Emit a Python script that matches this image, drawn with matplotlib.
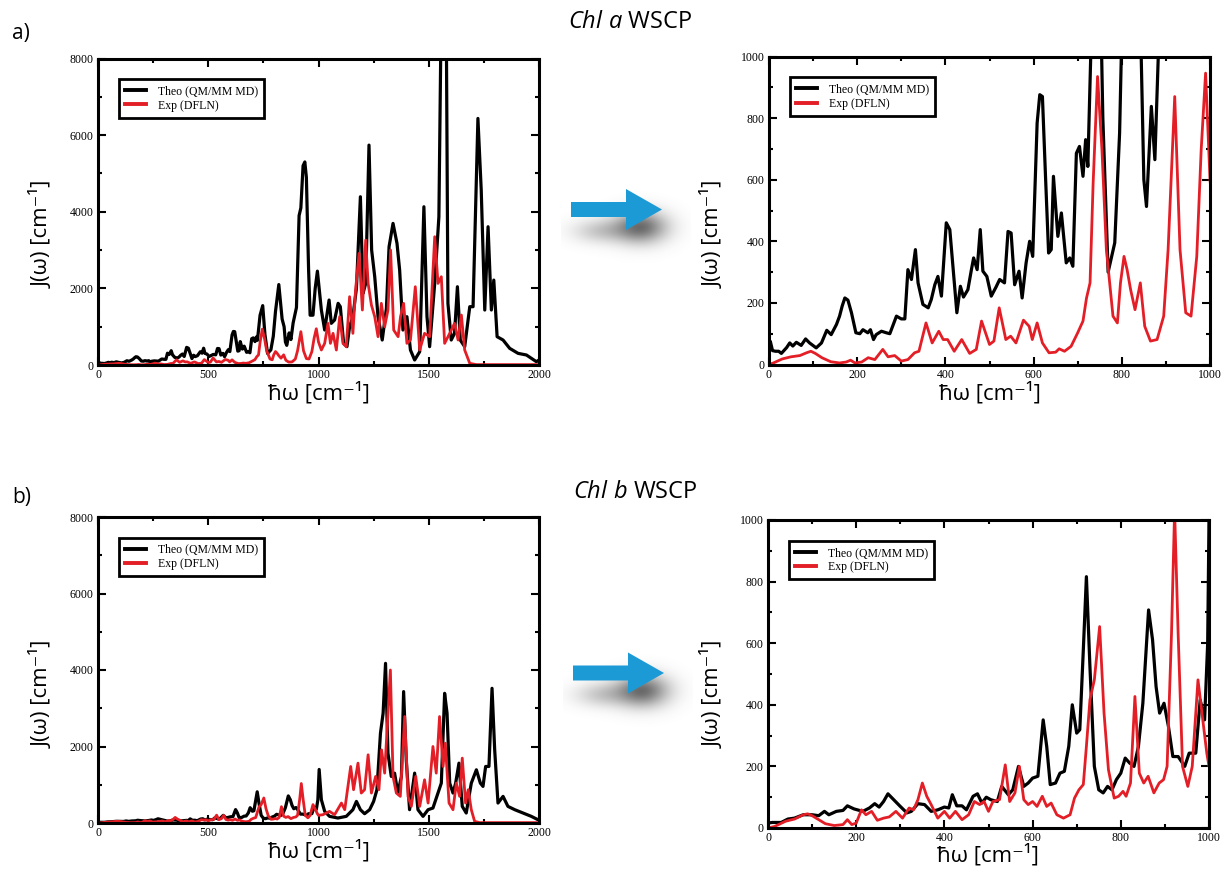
import numpy as np
import matplotlib
matplotlib.use("Agg")
import matplotlib.pyplot as plt
from matplotlib.patches import Polygon
from matplotlib.ticker import MultipleLocator

W, H = 1223, 884

# Chl a WSCP, theory (QM/MM MD)
a_theo_x = [0, 3, 8, 15, 22, 28, 40, 47, 54, 62, 73, 83, 92, 107, 119, 131, 141, 153, 160, 166,
            172, 179, 187, 197, 206, 213, 224, 230, 237, 243, 255, 266, 274, 289, 300, 308, 315, 323,
            332, 338, 349, 361, 368, 376, 383, 391, 402, 410, 417, 426, 434, 441, 451, 459, 464, 472,
            479, 485, 494, 504, 515, 523, 534, 542, 549, 557, 567, 574, 583, 591, 598, 608, 614, 620,
            627, 634, 640, 645, 655, 663, 674, 682, 689, 697, 704, 712, 718, 723, 735, 747, 757, 769,
            784, 795, 805, 820, 835, 844, 850, 856, 867, 875, 885, 900, 912, 920, 930, 938, 945, 955,
            962, 975, 985, 995, 1013, 1028, 1048, 1058, 1073, 1089, 1099, 1114, 1129, 1141, 1156, 1172,
            1190, 1202, 1214, 1229, 1241, 1255, 1270, 1289, 1308, 1320, 1338, 1356, 1368, 1383, 1401,
            1417, 1436, 1459, 1478, 1492, 1504, 1527, 1546, 1555, 1567, 1580, 1587, 1602, 1617, 1630,
            1643, 1663, 1686, 1701, 1723, 1738, 1754, 1769, 1784, 1795, 1810, 1837, 1867, 1905, 1943,
            1988, 2000]
a_theo_y = [60, 75, 45, 43, 43, 36, 55, 70, 60, 72, 62, 83, 70, 54, 70, 111, 97, 130, 157, 190,
            216, 209, 168, 103, 100, 113, 103, 113, 81, 97, 108, 103, 100, 157, 148, 148, 308, 276,
            373, 265, 195, 184, 211, 259, 286, 222, 460, 438, 319, 168, 254, 219, 243, 308, 346, 308,
            438, 303, 286, 222, 252, 276, 265, 432, 427, 259, 303, 216, 330, 400, 351, 784, 876, 870,
            611, 362, 373, 611, 416, 492, 330, 346, 319, 686, 708, 611, 730, 643, 1300, 1550, 800, 300,
            395, 751, 1400, 2100, 1200, 1000, 600, 513, 838, 665, 1100, 1500, 3900, 4100, 5200, 5300,
            4900, 2500, 1300, 1300, 2000, 2450, 1435, 913, 1696, 1087, 1174, 1609, 1522, 565, 478,
            1000, 1261, 2000, 4391, 1870, 2130, 5739, 3000, 2304, 1261, 652, 1478, 3087, 3696, 3174,
            2478, 913, 1261, 391, 130, 348, 4130, 1261, 478, 2130, 3870, 8500, 10000, 8500, 1609, 652,
            826, 2043, 652, 478, 1522, 1522, 6435, 4565, 1435, 3609, 1435, 2217, 739, 652, 435, 304,
            261, 87, 130]

# Chl a WSCP, experiment (DFLN)
a_exp_x = [0, 10, 30, 50, 70, 85, 95, 105, 120, 140, 160, 175, 185, 195, 210, 225, 240, 258, 270,
           285, 300, 315, 330, 340, 356, 370, 385, 395, 405, 420, 437, 455, 470, 482, 500, 510, 522,
           537, 548, 560, 577, 590, 597, 608, 620, 635, 650, 658, 670, 685, 700, 712, 720, 728, 735,
           745, 755, 765, 780, 790, 797, 805, 812, 820, 830, 842, 852, 865, 880, 895, 905, 920, 932,
           945, 957, 970, 980, 990, 1000, 1013, 1028, 1043, 1054, 1066, 1081, 1096, 1111, 1126, 1141,
           1156, 1168, 1184, 1199, 1214, 1225, 1240, 1255, 1270, 1285, 1300, 1315, 1327, 1341, 1361,
           1372, 1386, 1401, 1417, 1439, 1459, 1481, 1504, 1527, 1542, 1557, 1572, 1595, 1617, 1633,
           1648, 1663, 1686, 1716, 1800, 1900, 2000]
a_exp_y = [0, 5, 18, 25, 29, 38, 43, 36, 22, 9, 5, 8, 14, 5, 8, 22, 16, 49, 25, 29, 11, 16, 38, 43,
           135, 70, 108, 81, 81, 43, 81, 36, 49, 141, 65, 76, 184, 81, 92, 70, 144, 124, 81, 135, 70,
           38, 40, 51, 43, 59, 103, 141, 216, 265, 589, 935, 697, 373, 157, 135, 265, 351, 308, 243,
           178, 265, 124, 76, 81, 157, 373, 870, 373, 168, 157, 351, 697, 946, 600, 391, 565, 1087,
           565, 826, 391, 1261, 565, 478, 1783, 826, 1957, 2913, 1435, 3261, 2130, 1565, 1261, 739,
           1609, 1000, 1435, 3000, 913, 739, 1261, 1609, 565, 652, 2043, 391, 826, 739, 3348, 2130,
           2304, 565, 826, 1087, 652, 1304, 391, 43, 10, 10, 10, 10]

# Chl b WSCP, theory (QM/MM MD)
b_theo_x = [0, 10, 30, 45, 60, 80, 100, 115, 128, 138, 155, 170, 180, 195, 215, 230, 242, 252, 262,
            272, 285, 300, 315, 325, 340, 355, 370, 385, 400, 410, 418, 428, 440, 450, 465, 475, 485,
            495, 505, 520, 530, 545, 555, 568, 580, 590, 600, 612, 624, 632, 640, 652, 662, 672, 682,
            690, 700, 707, 715, 722, 730, 740, 750, 760, 770, 780, 790, 800, 810, 820, 830, 840, 850,
            863, 872, 880, 888, 898, 908, 918, 930, 945, 955, 970, 980, 990, 997, 1003, 1013, 1028,
            1050, 1088, 1126, 1156, 1172, 1190, 1209, 1232, 1250, 1265, 1281, 1293, 1304, 1315, 1330,
            1345, 1360, 1376, 1386, 1398, 1413, 1436, 1451, 1474, 1497, 1519, 1542, 1557, 1572, 1583,
            1595, 1610, 1622, 1637, 1652, 1670, 1693, 1716, 1734, 1746, 1758, 1773, 1787, 1799, 1814,
            1837, 1859, 1890, 1927, 1965, 1995, 2000]
b_theo_y = [16, 18, 18, 29, 32, 43, 43, 40, 54, 43, 54, 57, 72, 62, 54, 65, 79, 68, 86, 111, 92, 70,
            49, 54, 79, 76, 54, 59, 68, 65, 108, 72, 72, 59, 103, 111, 81, 100, 92, 86, 135, 108, 124,
            200, 135, 146, 162, 168, 351, 265, 141, 146, 178, 184, 265, 400, 308, 319, 578, 816, 524,
            200, 124, 114, 135, 124, 157, 178, 227, 211, 200, 265, 405, 708, 611, 459, 373, 405, 330,
            232, 232, 200, 243, 243, 416, 351, 600, 1400, 609, 304, 174, 130, 174, 348, 565, 348, 243,
            348, 565, 870, 2348, 2870, 4174, 1826, 1217, 1304, 783, 1217, 3435, 1652, 348, 1304, 348,
            174, 348, 391, 783, 1043, 3391, 2870, 1043, 783, 1043, 1565, 435, 261, 1043, 1391, 1043,
            957, 1478, 1478, 3522, 1913, 522, 696, 435, 348, 261, 174, 87, 80]

# Chl b WSCP, experiment (DFLN)
b_exp_x = [0, 15, 40, 60, 80, 90, 100, 115, 130, 150, 170, 180, 190, 200, 212, 222, 235, 248, 262,
           275, 290, 305, 320, 330, 340, 350, 360, 370, 385, 400, 412, 425, 440, 455, 468, 480, 490,
           500, 510, 525, 538, 548, 560, 570, 580, 590, 600, 610, 622, 632, 642, 655, 670, 685, 695,
           705, 715, 722, 730, 740, 752, 762, 772, 785, 795, 805, 812, 822, 832, 842, 852, 862, 875,
           887, 897, 905, 915, 922, 930, 940, 952, 962, 975, 985, 995, 1000, 1020, 1050, 1073, 1104,
           1119, 1146, 1159, 1179, 1194, 1209, 1225, 1240, 1259, 1274, 1286, 1300, 1326, 1338, 1353,
           1371, 1391, 1406, 1421, 1441, 1459, 1481, 1497, 1519, 1534, 1549, 1565, 1575, 1592, 1610,
           1625, 1640, 1652, 1667, 1679, 1693, 1708, 1731, 1800, 1900, 2000]
b_exp_y = [0, 5, 22, 29, 43, 46, 40, 27, 14, 8, 11, 27, 11, 16, 59, 43, 54, 25, 32, 36, 54, 32, 65,
           59, 92, 146, 103, 76, 32, 54, 32, 54, 27, 43, 86, 76, 86, 54, 86, 92, 205, 86, 114, 200, 92,
           76, 86, 70, 103, 70, 81, 43, 32, 43, 97, 124, 141, 265, 416, 481, 654, 373, 189, 97, 103,
           119, 103, 146, 427, 178, 146, 168, 114, 146, 157, 200, 632, 1032, 632, 200, 135, 200, 481,
           362, 243, 200, 217, 304, 217, 522, 348, 1478, 870, 1565, 783, 870, 1783, 783, 1217, 870,
           1913, 1304, 4000, 1217, 783, 696, 2783, 696, 435, 1217, 435, 1130, 522, 2000, 1304, 2783,
           1478, 2087, 522, 348, 1043, 696, 1696, 522, 870, 348, 43, 10, 10, 10, 10]

ser = 'Liberation Serif'
sans = ['Open Sans', 'DejaVu Sans']
plt.rcParams['mathtext.fontset'] = 'custom'
plt.rcParams['mathtext.rm'] = 'Open Sans'
plt.rcParams['mathtext.it'] = 'Open Sans:italic'

fig = plt.figure(figsize=(W / 100, H / 100), dpi=100)


def box(x0, x1, top, bot):
    return [x0 / W, 1 - bot / H, (x1 - x0) / W, (bot - top) / H]


def panel(rect, xs, ys, xe, ye, xmax, ymax, xmaj, ymaj):
    ax = fig.add_axes(rect)
    ax.plot(xs, ys, color='black', lw=2.3, label='Theo (QM/MM MD)')
    ax.plot(xe, ye, color='#e31e26', lw=2.0, label='Exp (DFLN)')
    ax.set_xlim(0, xmax)
    ax.set_ylim(0, ymax)
    ax.xaxis.set_major_locator(MultipleLocator(xmaj))
    ax.xaxis.set_minor_locator(MultipleLocator(xmaj / 2))
    ax.yaxis.set_major_locator(MultipleLocator(ymaj))
    ax.yaxis.set_minor_locator(MultipleLocator(ymaj / 2))
    ax.tick_params(which='both', direction='in', top=True, right=True, width=1.5,
                   labelsize=8.5, pad=3)
    ax.tick_params(which='major', length=6)
    ax.tick_params(which='minor', length=3)
    for lab in ax.get_xticklabels() + ax.get_yticklabels():
        lab.set_fontfamily(ser)
    for s in ax.spines.values():
        s.set_linewidth(2.2)
    leg = ax.legend(loc='upper left', bbox_to_anchor=(0.048, 0.932), borderaxespad=0,
                    fancybox=False, edgecolor='black', framealpha=1,
                    prop={'family': ser, 'size': 8.5}, handlelength=1.8,
                    handletextpad=1.0, borderpad=0.5, labelspacing=0.2)
    leg.get_frame().set_linewidth(2.0)
    for ln in leg.get_lines():
        ln.set_linewidth(2.8)
    return ax


panel(box(98, 539, 58.5, 365), a_theo_x, a_theo_y, a_exp_x, a_exp_y, 2000, 8000, 500, 2000)
panel(box(769, 1210, 56.5, 364.5), a_theo_x, a_theo_y, a_exp_x, a_exp_y, 1000, 1000, 200, 200)
panel(box(98, 539, 517, 823), b_theo_x, b_theo_y, b_exp_x, b_exp_y, 2000, 8000, 500, 2000)
panel(box(768, 1209, 520, 828), b_theo_x, b_theo_y, b_exp_x, b_exp_y, 1000, 1000, 200, 200)

ylab = 'J(ω) [cm⁻¹]'
xlab = 'ħω [cm⁻¹]'
for px, py in [(42, 234), (713, 234), (42, 694), (713, 694)]:
    fig.text(px / W, 1 - py / H, ylab, rotation=90, ha='center', va='center',
             family=sans, fontsize=16)
for px, py in [(319, 393), (990, 393), (319, 851), (988, 855)]:
    fig.text(px / W, 1 - py / H, xlab, ha='center', va='center', family=sans, fontsize=16)

fig.text(630 / W, 1 - 22 / H, r'$\mathit{Chl\ a}$ WSCP', ha='center', va='center',
         family=sans, fontsize=17)
fig.text(635 / W, 1 - 492 / H, r'$\mathit{Chl\ b}$ WSCP', ha='center', va='center',
         family=sans, fontsize=17)
fig.text(12 / W, 1 - 33 / H, 'a)', ha='left', va='center', family=sans, fontsize=15)
fig.text(12 / W, 1 - 498 / H, 'b)', ha='left', va='center', family=sans, fontsize=15)


def arrow(x0, yc):
    # soft grey drop shadow
    sx0, sx1, sy0, sy1 = x0 - 10, x0 + 120, yc - 25, yc + 55
    gx, gy = np.meshgrid(np.linspace(sx0, sx1, 130), np.linspace(sy0, sy1, 80))
    a1 = 0.8 * np.exp(-((gx - (x0 + 70)) / 26) ** 2 - ((gy - (yc + 18)) / 16) ** 2)
    a2 = 0.3 * np.exp(-((gx - (x0 + 30)) / 28) ** 2 - ((gy - (yc + 22)) / 12) ** 2)
    alpha = np.clip(a1 + a2, 0, 1)
    img = np.zeros(alpha.shape + (4,))
    img[..., :3] = 0.3
    img[..., 3] = alpha
    sh = fig.add_axes(box(sx0, sx1, sy0, sy1))
    sh.imshow(img, aspect='auto', interpolation='bilinear')
    sh.axis('off')
    pts = [(x0, yc - 7.5), (x0 + 55, yc - 7.5), (x0 + 55, yc - 20.5), (x0 + 91, yc),
           (x0 + 55, yc + 20.5), (x0 + 55, yc + 7.5), (x0, yc + 7.5)]
    pts = [(px / W, 1 - py / H) for px, py in pts]
    fig.patches.append(Polygon(pts, closed=True, transform=fig.transFigure,
                               facecolor='#1b9ad6', edgecolor='none', zorder=5))


arrow(571, 209.5)
arrow(573, 673)

fig.savefig('out.png', dpi=100)
